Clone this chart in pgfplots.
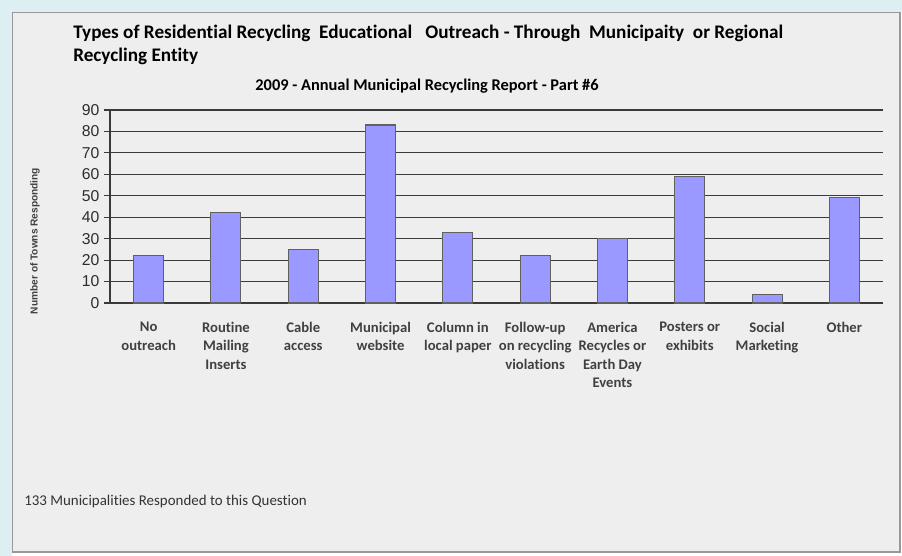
\documentclass[border=0pt]{standalone}
\usepackage{pgfplots}
\pgfplotsset{compat=1.18}
\usepackage{fontspec}
\setmainfont{Carlito}[Ligatures=NoCommon]
\newfontfamily\arial{Liberation Sans}
\definecolor{chartbg}{HTML}{EEEEEE}
\definecolor{barfill}{HTML}{9999FF}
\definecolor{gridc}{HTML}{3A3A3A}
\definecolor{txt}{HTML}{404040}
\definecolor{sheet}{HTML}{DDEFF3}

\pgfplotstableread{
x y
0 22
1 42
2 25
3 83
4 33
5 22
6 30
7 59
8 4
9 49
}\outreach

\begin{document}
\begin{tikzpicture}
% page frame, 1px = 0.75pt, y downward
\begin{scope}[x=0.75pt,y=-0.75pt]
  \fill[white] (0,0) rectangle (902,556);
  \fill[sheet] (0,0) rectangle (902,12);
  \fill[sheet] (0,0) rectangle (12,556);
  \fill[chartbg, draw=gray!80, line width=0.8pt] (12.5,12.5) rectangle (900,552);
  \node[anchor=base west, font=\bfseries\fontsize{14.4}{16}\selectfont, inner sep=0pt] at (73,38.5)
    {Types of Residential Recycling\ \ Educational\ \ \ Outreach - Through\ \ Municipaity\ \ or Regional};
  \node[anchor=base west, font=\bfseries\fontsize{14.4}{16}\selectfont, inner sep=0pt] at (73,61.5)
    {Recycling Entity};
  \node[anchor=base, font=\bfseries\fontsize{12.3}{14}\selectfont, inner sep=0pt] at (427,90.5)
    {2009 - Annual Municipal Recycling Report - Part \#6};
  \node[anchor=base west, text=txt!80!black, font=\fontsize{11.2}{13}\selectfont, inner sep=0pt] at (24,505.5)
    {133 Municipalities Responded to this Question};
  \node[rotate=90, text=txt, font=\arial\bfseries\fontsize{7.6}{8}\selectfont, inner sep=0pt] at (35,241)
    {Number of Towns Responding};
\end{scope}

\begin{axis}[
    at={(82.5pt,-227.25pt)}, anchor=south west,
    scale only axis,
    width=579.75pt, height=144.75pt,
    xmin=-0.5, xmax=9.5,
    ymin=0, ymax=90,
    ytick={0,10,...,90},
    xtick={0,...,9},
    xticklabels={{No\\outreach},{Routine\\Mailing\\Inserts},{Cable\\access},{Municipal\\website},{Column in\\local paper},{Follow-up\\on recycling\\violations},{America\\Recycles or\\Earth Day\\Events},{Posters or\\exhibits},{Social\\Marketing},{Other}},
    minor xtick={-0.5,0.5,...,9.5},
    axis x line=bottom, axis y line=left,
    axis line style={-, gridc, line width=0.8pt},
    tick align=outside,
    major tick length=4.5pt,
    minor tick length=4.5pt,
    x tick style={draw=none},
    minor x tick style={gridc, line width=0.8pt},
    y tick style={gridc, line width=0.8pt},
    ymajorgrids,
    grid style={gridc, line width=0.8pt},
    xticklabel style={align=center, text=txt, font=\bfseries\fontsize{11}{13.7}\selectfont, yshift=-6.5pt},
    yticklabel style={text=txt!70!black, font=\arial\fontsize{11.8}{12}\selectfont},
    /pgf/number format/assume math mode=true,
    axis background/.style={fill=chartbg},
  ]
  \addplot[ybar, bar width=22.5pt, fill=barfill, draw=gridc!80, line width=0.8pt] table[x=x,y=y] {\outreach};
\end{axis}
\end{tikzpicture}
\end{document}
